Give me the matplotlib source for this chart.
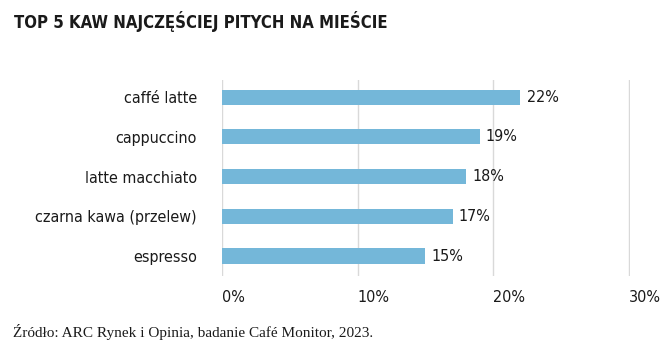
import matplotlib.pyplot as plt

kawy = ['caffé latte', 'cappuccino', 'latte macchiato', 'czarna kawa (przelew)', 'espresso']
procenty = [22, 19, 18, 17, 15]
ticki = [0, 10, 20, 30]
tick_labels = ['0%', '10%', '20%', '30%']

plt.rcParams['font.family'] = ['DejaVu Sans']
kolor = '#74b7d9'
tekst = '#1a1a1a'

fig = plt.figure(figsize=(6.7, 3.51), dpi=100)
ax = fig.add_axes([0.331, 0.214, 0.610, 0.558])

y = list(range(len(kawy)))
ax.barh(y, procenty, height=0.38, color=kolor, zorder=3)
for yi, v in zip(y, procenty):
    ax.text(v + 0.45, yi, f'{v}%', va='center', ha='left', fontsize=11.5,
            color=tekst, fontstretch='condensed')

ax.set_xlim(0, 30.1)
ax.set_ylim(4.5, -0.43)
ax.set_yticks(y)
ax.set_yticklabels(kawy, fontsize=11.5, color=tekst, fontstretch='condensed')
ax.set_xticks(ticki)
ax.set_xticklabels(tick_labels, fontsize=11.5, color=tekst, ha='left',
                   fontstretch='condensed')
ax.tick_params(axis='y', length=0, pad=18)
ax.tick_params(axis='x', length=0, pad=10)
ax.grid(axis='x', color='#d9d9d9', linewidth=1, zorder=0)
for s in ax.spines.values():
    s.set_visible(False)

fig.text(0.021, 0.94, 'TOP 5 KAW NAJCZĘŚCIEJ PITYCH NA MIEŚCIE', fontsize=12,
         fontweight='bold', fontstretch='condensed', color=tekst, va='center', ha='left')
fig.text(0.019, 0.055, 'Źródło: ARC Rynek i Opinia, badanie Café Monitor, 2023.',
         fontsize=11, family='Liberation Serif', color=tekst, va='center', ha='left')

fig.savefig('out.png', dpi=100)
